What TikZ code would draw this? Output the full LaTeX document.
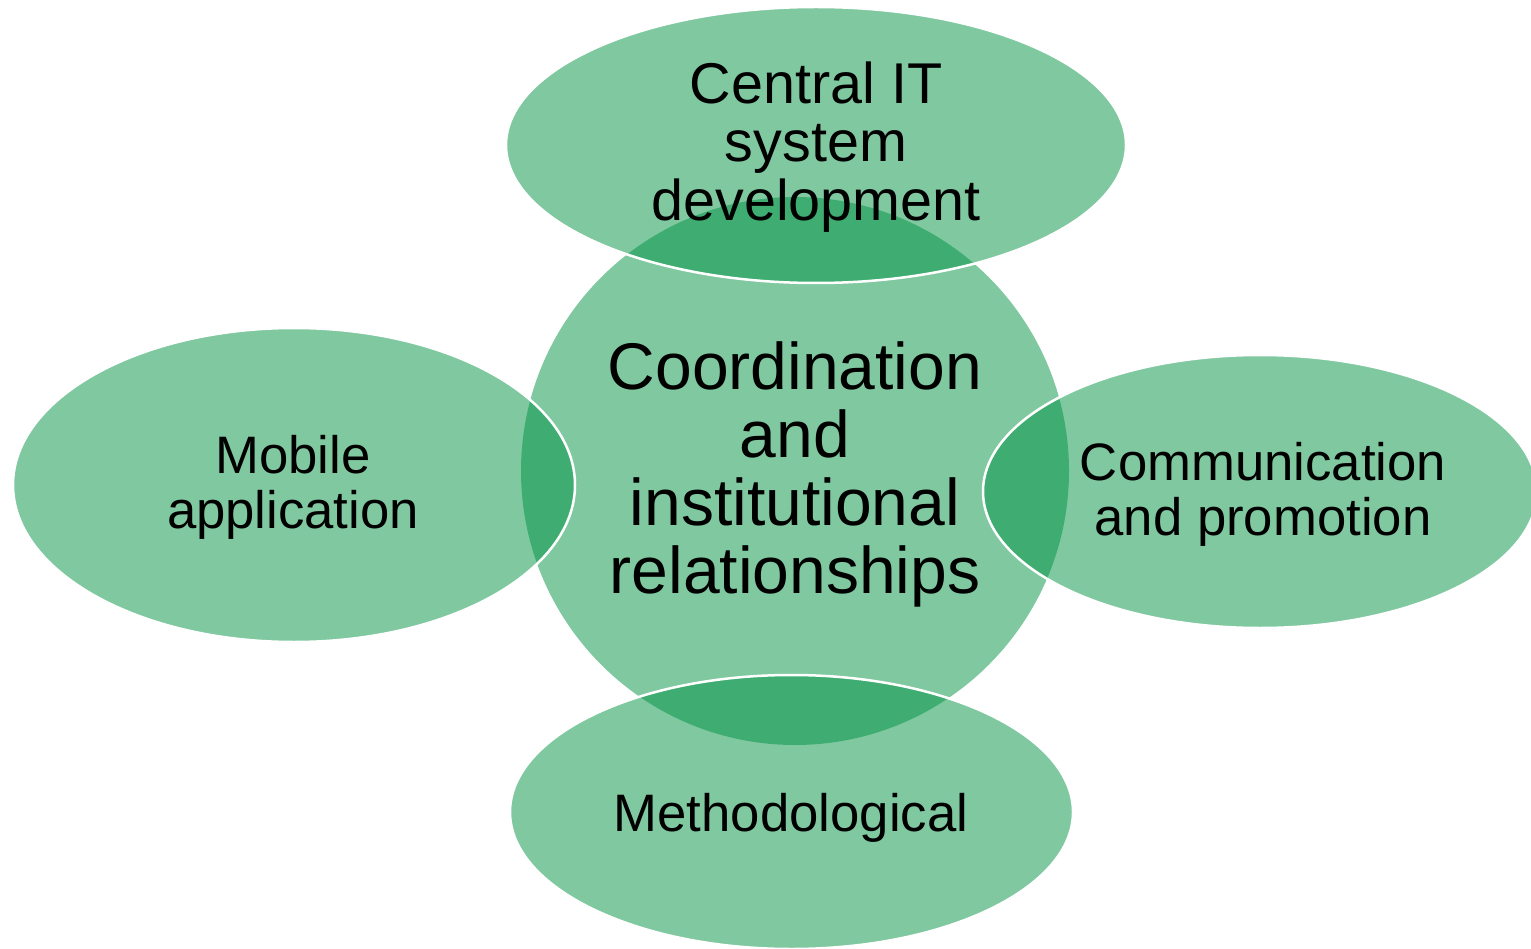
\documentclass[tikz,border=0pt]{standalone}
\usepackage{fontspec}
\setmainfont{Liberation Sans}
\usetikzlibrary{shapes.geometric}
\definecolor{grn}{RGB}{0,146,66}
\tikzset{
  blob/.style={fill=grn, fill opacity=0.5, inner sep=0pt, outer sep=0pt},
  oval/.style={blob, ellipse, draw=white, line width=2.5pt},
  lbl/.style={inner sep=0pt, outer sep=0pt, align=center, text=black},
}
\begin{document}
\begin{tikzpicture}[x=1pt, y=-1pt]
\useasboundingbox (0,0) rectangle (1531,949);
% central circle
\node[blob, circle, minimum size=548pt] (core) at (795,471) {};
% surrounding ellipses
\node[oval, minimum width=620pt, minimum height=276pt] (top) at (816,145) {};
\node[oval, minimum width=562pt, minimum height=314pt] (left) at (294,485) {};
\node[oval, minimum width=554pt, minimum height=273pt] (right) at (1260,491.5) {};
\node[oval, minimum width=563pt, minimum height=274pt] (bottom) at (791.5,812) {};
% labels
\node[lbl, font=\fontsize{66}{68}\selectfont] (coretext) at (795,474.3)
  {Coordination\\and\\institutional\\relationships};
\node[lbl, font=\fontsize{57.5}{58.3}\selectfont] (toptext) at (816,147)
  {Central IT\\system\\development};
\node[lbl, font=\fontsize{52.7}{55}\selectfont] (lefttext) at (293,487.7)
  {Mobile\\application};
\node[lbl, font=\fontsize{52.7}{55}\selectfont] (righttext) at (1263,494)
  {Communication\\and promotion};
\node[lbl, font=\fontsize{52.7}{55}\selectfont] (bottomtext) at (791,817.6)
  {Methodological};
\end{tikzpicture}
\end{document}
